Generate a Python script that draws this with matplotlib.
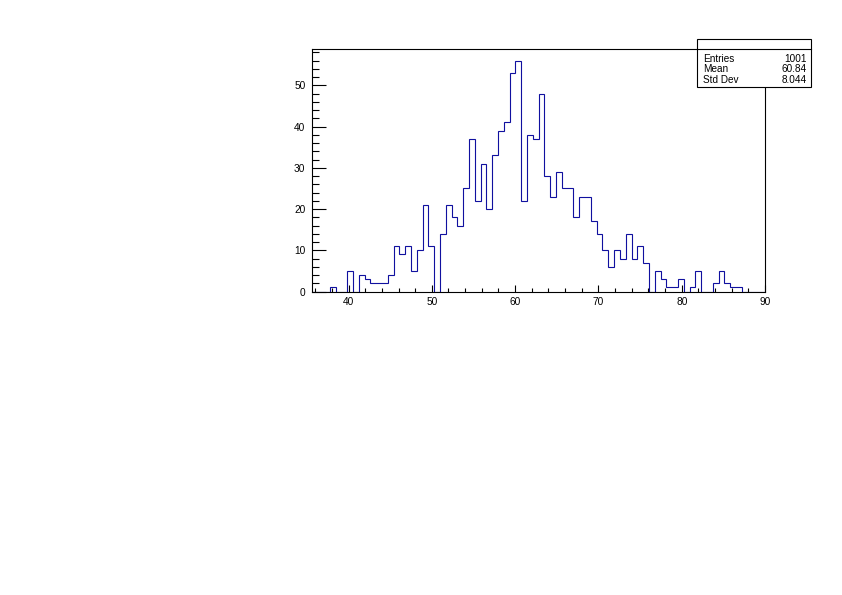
import numpy as np
import matplotlib
matplotlib.use("Agg")
import matplotlib.pyplot as plt
from matplotlib.patches import Rectangle
from matplotlib.lines import Line2D
from matplotlib.ticker import MultipleLocator

# ---- data ----
x_min = 35.65
x_max = 90.0
counts = [0, 0, 0, 1, 0, 0, 5, 0, 4, 3,
          2, 2, 2, 4, 11, 9, 11, 5, 10, 21,
          11, 0, 14, 21, 18, 16, 25, 37, 22, 31,
          20, 33, 39, 41, 53, 56, 22, 38, 37, 48,
          28, 23, 29, 25, 25, 18, 23, 23, 17, 14,
          10, 6, 10, 8, 14, 8, 11, 7, 0, 5,
          3, 1, 1, 3, 0, 1, 5, 0, 0, 2,
          5, 2, 1, 1, 0, 0, 0, 0]
stat_names = ["Entries", "Mean", "Std Dev"]
stat_values = ["1001", "60.84", "8.044"]
x_ticks = [40, 50, 60, 70, 80, 90]
y_ticks = [0, 10, 20, 30, 40, 50]

W, H = 842, 595
fig = plt.figure(figsize=(W / 100, H / 100), dpi=100)
plt.rcParams['font.family'] = ['Liberation Sans', 'DejaVu Sans']

def fx(px):
    return px / W

def fy(py):
    return 1 - py / H

left, right, top, bottom = 312.3, 765.0, 49.0, 291.5
ax = fig.add_axes([fx(left), fy(bottom), fx(right) - fx(left), fy(top) - fy(bottom)])

edges = np.linspace(x_min, x_max, len(counts) + 1)
ax.stairs(counts, edges, baseline=0, color='#10109f', linewidth=0.8)

ax.set_xlim(x_min, x_max)
ax.set_ylim(0, max(counts) * 1.05)

ax.set_xticks(x_ticks)
ax.set_yticks(y_ticks)
ax.xaxis.set_minor_locator(MultipleLocator(2))
ax.yaxis.set_minor_locator(MultipleLocator(2))
ax.tick_params(axis='both', which='both', direction='in', top=False, right=False,
               width=0.8, colors='black', labelsize=7.3)
ax.tick_params(axis='x', which='major', length=5.3, pad=4)
ax.tick_params(axis='x', which='minor', length=2.7)
ax.tick_params(axis='y', which='major', length=9.8, pad=5)
ax.tick_params(axis='y', which='minor', length=4.9)
for s in ax.spines.values():
    s.set_linewidth(0.8)

# ---- stats box ----
bx0, bx1, by0, by1 = 697.3, 810.5, 38.7, 86.8
sep = 48.5
fig.add_artist(Rectangle((fx(bx0), fy(by1)), fx(bx1) - fx(bx0), fy(by0) - fy(by1),
                         transform=fig.transFigure, facecolor='white', edgecolor='black',
                         linewidth=0.8, zorder=10))
fig.add_artist(Line2D([fx(bx0), fx(bx1)], [fy(sep), fy(sep)], transform=fig.transFigure,
                      color='black', linewidth=0.8, zorder=11))
row_y = [58.5, 69.4, 80.2]
for name, val, ry in zip(stat_names, stat_values, row_y):
    fig.text(fx(703.0), fy(ry), name, ha='left', va='center', fontsize=7.2, zorder=12)
    fig.text(fx(806.5), fy(ry), val, ha='right', va='center', fontsize=7.2, zorder=12)

fig.savefig("out.png", dpi=100, facecolor='white')
